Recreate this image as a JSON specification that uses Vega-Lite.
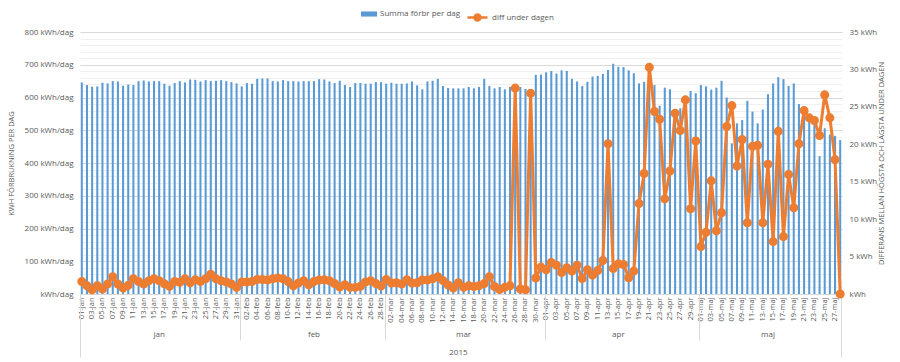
{
  "$schema": "https://vega.github.io/schema/vega-lite/v6.json",
  "width": 762,
  "height": 262,
  "autosize": "none",
  "padding": {"left": 80, "top": 32, "right": 58, "bottom": 68},
  "background": "white",
  "config": {
    "font": "Open Sans",
    "view": {"stroke": null},
    "axis": {"labelFont": "Open Sans", "titleFont": "Open Sans", "labelColor": "#595959", "titleColor": "#595959", "titleFontWeight": "normal"},
    "legend": {"labelFont": "Open Sans", "labelColor": "#595959", "labelFontSize": 8}
  },
  "data": {"values": [
    {"d":"01-jan","kwh":646,"diff":1.68},{"d":"02-jan","kwh":638,"diff":1.10},{"d":"03-jan","kwh":633,"diff":0.55},{"d":"04-jan","kwh":634,"diff":1.10},{"d":"05-jan","kwh":645,"diff":0.66},{"d":"06-jan","kwh":643,"diff":1.33},{"d":"07-jan","kwh":650,"diff":2.30},{"d":"08-jan","kwh":649,"diff":1.33},{"d":"09-jan","kwh":636,"diff":0.80},{"d":"10-jan","kwh":640,"diff":1.15},{"d":"11-jan","kwh":638,"diff":2.03},{"d":"12-jan","kwh":650,"diff":1.68},{"d":"13-jan","kwh":652,"diff":1.33},{"d":"14-jan","kwh":649,"diff":1.77},{"d":"15-jan","kwh":650,"diff":2.03},{"d":"16-jan","kwh":650,"diff":1.77},{"d":"17-jan","kwh":642,"diff":1.37},{"d":"18-jan","kwh":636,"diff":1.02},{"d":"19-jan","kwh":644,"diff":1.68},{"d":"20-jan","kwh":650,"diff":1.55},{"d":"21-jan","kwh":646,"diff":2.03},{"d":"22-jan","kwh":655,"diff":1.50},{"d":"23-jan","kwh":654,"diff":1.90},{"d":"24-jan","kwh":649,"diff":1.68},{"d":"25-jan","kwh":653,"diff":2.03},{"d":"26-jan","kwh":650,"diff":2.65},{"d":"27-jan","kwh":651,"diff":2.03},{"d":"28-jan","kwh":653,"diff":1.77},{"d":"29-jan","kwh":650,"diff":1.60},{"d":"30-jan","kwh":647,"diff":1.33},{"d":"31-jan","kwh":643,"diff":0.88},
    {"d":"01-feb","kwh":634,"diff":1.60},{"d":"02-feb","kwh":644,"diff":1.60},{"d":"03-feb","kwh":642,"diff":1.68},{"d":"04-feb","kwh":657,"diff":1.94},{"d":"05-feb","kwh":658,"diff":1.94},{"d":"06-feb","kwh":658,"diff":1.86},{"d":"07-feb","kwh":650,"diff":2.03},{"d":"08-feb","kwh":649,"diff":2.13},{"d":"09-feb","kwh":653,"diff":2.03},{"d":"10-feb","kwh":650,"diff":1.68},{"d":"11-feb","kwh":650,"diff":1.10},{"d":"12-feb","kwh":649,"diff":1.46},{"d":"13-feb","kwh":650,"diff":1.77},{"d":"14-feb","kwh":650,"diff":1.24},{"d":"15-feb","kwh":650,"diff":1.68},{"d":"16-feb","kwh":656,"diff":1.86},{"d":"17-feb","kwh":655,"diff":1.90},{"d":"18-feb","kwh":649,"diff":1.77},{"d":"19-feb","kwh":644,"diff":1.41},{"d":"20-feb","kwh":651,"diff":0.93},{"d":"21-feb","kwh":638,"diff":1.24},{"d":"22-feb","kwh":632,"diff":0.88},{"d":"23-feb","kwh":644,"diff":0.88},{"d":"24-feb","kwh":644,"diff":1.02},{"d":"25-feb","kwh":642,"diff":1.60},{"d":"26-feb","kwh":642,"diff":1.77},{"d":"27-feb","kwh":647,"diff":1.41},{"d":"28-feb","kwh":647,"diff":1.06},
    {"d":"01-mar","kwh":642,"diff":1.94},{"d":"02-mar","kwh":645,"diff":1.46},{"d":"03-mar","kwh":642,"diff":1.50},{"d":"04-mar","kwh":642,"diff":1.33},{"d":"05-mar","kwh":643,"diff":1.90},{"d":"06-mar","kwh":649,"diff":1.46},{"d":"07-mar","kwh":637,"diff":1.50},{"d":"08-mar","kwh":625,"diff":1.86},{"d":"09-mar","kwh":649,"diff":1.86},{"d":"10-mar","kwh":651,"diff":2.03},{"d":"11-mar","kwh":657,"diff":2.30},{"d":"12-mar","kwh":635,"diff":1.80},{"d":"13-mar","kwh":629,"diff":1.20},{"d":"14-mar","kwh":628,"diff":0.80},{"d":"15-mar","kwh":628,"diff":1.50},{"d":"16-mar","kwh":628,"diff":0.90},{"d":"17-mar","kwh":632,"diff":1.10},{"d":"18-mar","kwh":628,"diff":1.00},{"d":"19-mar","kwh":632,"diff":1.10},{"d":"20-mar","kwh":657,"diff":1.40},{"d":"21-mar","kwh":635,"diff":2.30},{"d":"22-mar","kwh":628,"diff":1.00},{"d":"23-mar","kwh":632,"diff":0.60},{"d":"24-mar","kwh":625,"diff":0.90},{"d":"25-mar","kwh":632,"diff":1.10},{"d":"26-mar","kwh":628,"diff":27.5},{"d":"27-mar","kwh":632,"diff":0.66},{"d":"28-mar","kwh":626,"diff":0.57},{"d":"29-mar","kwh":620,"diff":26.8},{"d":"30-mar","kwh":669,"diff":2.13},{"d":"31-mar","kwh":670,"diff":3.59},
    {"d":"01-apr","kwh":677,"diff":3.23},{"d":"02-apr","kwh":681,"diff":4.21},{"d":"03-apr","kwh":673,"diff":3.85},{"d":"04-apr","kwh":683,"diff":2.88},{"d":"05-apr","kwh":681,"diff":3.50},{"d":"06-apr","kwh":657,"diff":3.06},{"d":"07-apr","kwh":649,"diff":3.85},{"d":"08-apr","kwh":635,"diff":2.08},{"d":"09-apr","kwh":648,"diff":3.23},{"d":"10-apr","kwh":664,"diff":2.52},{"d":"11-apr","kwh":666,"diff":3.14},{"d":"12-apr","kwh":672,"diff":4.47},{"d":"13-apr","kwh":684,"diff":20.08},{"d":"14-apr","kwh":703,"diff":3.41},{"d":"15-apr","kwh":694,"diff":4.03},{"d":"16-apr","kwh":693,"diff":3.94},{"d":"17-apr","kwh":683,"diff":2.17},{"d":"18-apr","kwh":674,"diff":3.06},{"d":"19-apr","kwh":643,"diff":12.10},{"d":"20-apr","kwh":648,"diff":16.09},{"d":"21-apr","kwh":645,"diff":30.27},{"d":"22-apr","kwh":638,"diff":24.37},{"d":"23-apr","kwh":575,"diff":23.35},{"d":"24-apr","kwh":630,"diff":12.71},{"d":"25-apr","kwh":625,"diff":16.44},{"d":"26-apr","kwh":557,"diff":24.15},{"d":"27-apr","kwh":567,"diff":21.85},{"d":"28-apr","kwh":603,"diff":25.93},{"d":"29-apr","kwh":620,"diff":11.38},{"d":"30-apr","kwh":613,"diff":20.43},
    {"d":"01-maj","kwh":638,"diff":6.33},{"d":"02-maj","kwh":634,"diff":8.24},{"d":"03-maj","kwh":624,"diff":15.11},{"d":"04-maj","kwh":630,"diff":8.46},{"d":"05-maj","kwh":651,"diff":10.85},{"d":"06-maj","kwh":600,"diff":22.38},{"d":"07-maj","kwh":460,"diff":25.17},{"d":"08-maj","kwh":521,"diff":17.10},{"d":"09-maj","kwh":531,"diff":20.65},{"d":"10-maj","kwh":590,"diff":9.52},{"d":"11-maj","kwh":557,"diff":19.72},{"d":"12-maj","kwh":521,"diff":19.85},{"d":"13-maj","kwh":563,"diff":9.52},{"d":"14-maj","kwh":610,"diff":17.33},{"d":"15-maj","kwh":643,"diff":7.00},{"d":"16-maj","kwh":662,"diff":21.72},{"d":"17-maj","kwh":656,"diff":7.66},{"d":"18-maj","kwh":635,"diff":15.96},{"d":"19-maj","kwh":643,"diff":11.52},{"d":"20-maj","kwh":580,"diff":20.08},{"d":"21-maj","kwh":570,"diff":24.5},{"d":"22-maj","kwh":546,"diff":23.53},{"d":"23-maj","kwh":534,"diff":23.18},{"d":"24-maj","kwh":421,"diff":21.18},{"d":"25-maj","kwh":506,"diff":26.6},{"d":"26-maj","kwh":487,"diff":23.53},{"d":"27-maj","kwh":483,"diff":17.95},{"d":"28-maj","kwh":470,"diff":0}
  ]},
  "layer": [
    {
      "mark": {"type": "bar"},
      "encoding": {
        "x": {"field": "d", "type": "ordinal", "sort": null,
          "scale": {"paddingInner": 0.6, "paddingOuter": 0.15},
          "axis": {"orient": "bottom", "title": null, "labelAngle": -90, "labelFontSize": 7.5, "labelPadding": 3, "ticks": false, "domain": false, "grid": false,
            "values": ["01-jan","03-jan","05-jan","07-jan","09-jan","11-jan","13-jan","15-jan","17-jan","19-jan","21-jan","23-jan","25-jan","27-jan","29-jan","31-jan","02-feb","04-feb","06-feb","08-feb","10-feb","12-feb","14-feb","16-feb","18-feb","20-feb","22-feb","24-feb","26-feb","28-feb","02-mar","04-mar","06-mar","08-mar","10-mar","12-mar","14-mar","16-mar","18-mar","20-mar","22-mar","24-mar","26-mar","28-mar","30-mar","01-apr","03-apr","05-apr","07-apr","09-apr","11-apr","13-apr","15-apr","17-apr","19-apr","21-apr","23-apr","25-apr","27-apr","29-apr","01-maj","03-maj","05-maj","07-maj","09-maj","11-maj","13-maj","15-maj","17-maj","19-maj","21-maj","23-maj","25-maj","27-maj"]}},
        "y": {"field": "kwh", "type": "quantitative", "scale": {"domain": [0, 800], "nice": false},
          "axis": {"orient": "left", "title": "KWH FÖRBRUKNING PER DAG", "titleFontSize": 7.5, "titlePadding": 9, "labelFontSize": 8, "labelPadding": 7, "ticks": false, "domain": false,
            "values": [0,20,40,60,80,100,120,140,160,180,200,220,240,260,280,300,320,340,360,380,400,420,440,460,480,500,520,540,560,580,600,620,640,660,680,700,720,740,760,780,800],
            "labelExpr": "datum.value % 100 !== 0 ? '' : (datum.value === 0 ? 'kWh/dag' : datum.value + ' kWh/dag')",
            "gridColor": {"condition": {"test": "datum.value % 100 === 0", "value": "#d9d9d9"}, "value": "#f0f0f0"}}},
        "fill": {"datum": "Summa förbr per dag", "type": "nominal", "scale": {"range": ["#5B9BD5"]},
          "legend": {"title": null, "orient": "none", "legendX": 281, "legendY": -26, "direction": "horizontal", "symbolType": "M-1,-0.32H1V0.32H-1Z", "symbolSize": 256, "symbolStrokeWidth": 0, "labelOffset": 3}}
      }
    },
    {
      "mark": {"type": "line", "strokeWidth": 3, "point": {"filled": true, "fill": "#ED7D31", "size": 50}},
      "encoding": {
        "x": {"field": "d", "type": "ordinal", "sort": null,
          "axis": {"orient": "bottom", "title": null, "values": ["16-jan","15-feb","16-mar","15-apr","14-maj"], "labelExpr": "substring(datum.value, 3)", "labelAngle": 0, "ticks": false, "domain": false, "grid": false, "offset": 33, "labelPadding": 3, "labelFontSize": 8}},
        "y": {"field": "diff", "type": "quantitative", "scale": {"domain": [0, 35], "nice": false},
          "axis": {"orient": "right", "title": "DIFFERANS MELLAN HÖGSTA OCH LÄGSTA UNDER DAGEN", "titleAngle": 270, "titleFontSize": 7.5, "titlePadding": 9, "labelFontSize": 8, "labelPadding": 7, "ticks": false, "domain": false, "grid": false,
            "values": [0,5,10,15,20,25,30,35],
            "labelExpr": "datum.value === 0 ? 'kWh' : datum.value + ' kWh'"}},
        "stroke": {"datum": "diff under dagen", "type": "nominal", "scale": {"range": ["#ED7D31"]},
          "legend": {"title": null, "orient": "none", "legendX": 386, "legendY": -26, "direction": "horizontal", "symbolType": "M-1,0H1M-0.3,0A0.3,0.3,0,1,0,0.3,0A0.3,0.3,0,1,0,-0.3,0", "symbolSize": 400, "symbolStrokeWidth": 2.5, "symbolFillColor": "#ED7D31", "labelOffset": 3}}
      }
    },
    {
      "mark": {"type": "rule", "opacity": 0},
      "encoding": {
        "x": {"field": "d", "type": "ordinal", "sort": null,
          "axis": {"orient": "bottom", "title": null, "values": ["01-feb","01-mar","01-apr","01-maj"], "bandPosition": 0, "labels": false, "domain": false, "grid": false, "ticks": true, "tickSize": 46, "tickColor": "#d9d9d9", "tickWidth": 1}}
      }
    },
    {
      "mark": {"type": "rule", "opacity": 0},
      "encoding": {
        "x": {"field": "d", "type": "ordinal", "sort": null,
          "axis": {"orient": "bottom", "title": null, "values": ["01-jan"], "bandPosition": 0, "labels": false, "domain": false, "grid": false, "ticks": true, "tickSize": 63, "tickColor": "#d9d9d9", "tickWidth": 1}}
      }
    },
    {
      "mark": {"type": "rule", "opacity": 0},
      "encoding": {
        "x": {"field": "d", "type": "ordinal", "sort": null,
          "axis": {"orient": "bottom", "title": null, "values": ["28-maj"], "bandPosition": 1, "labels": false, "domain": false, "grid": false, "ticks": true, "tickSize": 63, "tickColor": "#d9d9d9", "tickWidth": 1}}
      }
    },
    {
      "mark": {"type": "rule", "opacity": 0},
      "encoding": {
        "x": {"field": "d", "type": "ordinal", "sort": null,
          "axis": {"orient": "bottom", "title": null, "values": ["15-mar"], "bandPosition": 1, "labelExpr": "'2015'", "labelAngle": 0, "labelFontSize": 8, "ticks": false, "domain": false, "grid": false, "offset": 51, "labelPadding": 3}}
      }
    }
  ],
  "resolve": {
    "scale": {"y": "independent", "fill": "independent", "stroke": "independent"},
    "axis": {"x": "independent", "y": "independent"}
  }
}
